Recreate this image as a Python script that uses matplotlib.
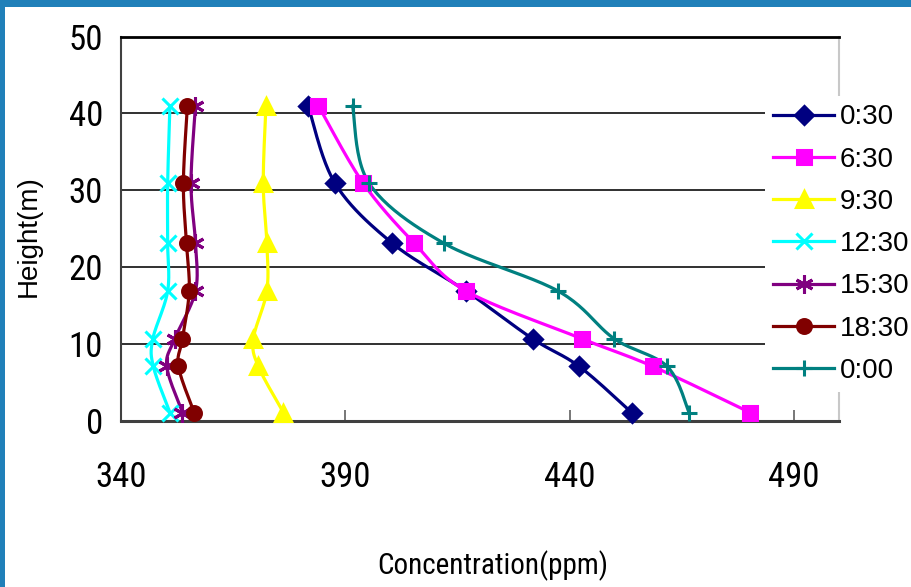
import numpy as np
import matplotlib
matplotlib.use("Agg")
import matplotlib.pyplot as plt
from matplotlib.patches import Rectangle
from matplotlib.lines import Line2D

# Measurement heights (m) and CO2 concentration profiles (ppm) at each time
heights = [1.1, 7.1, 10.7, 16.9, 23.1, 30.9, 41.0]
times = ["0:30", "6:30", "9:30", "12:30", "15:30", "18:30", "0:00"]
conc_0030 = [453.8, 442.1, 431.7, 416.9, 400.5, 387.7, 381.7]
conc_0630 = [480.2, 458.5, 442.7, 416.9, 405.4, 394.0, 384.0]
conc_0930 = [376.2, 370.6, 369.5, 372.5, 372.5, 371.7, 372.3]
conc_1230 = [350.9, 347.2, 347.1, 350.4, 350.4, 350.4, 350.9]
conc_1530 = [353.7, 350.2, 352.0, 356.6, 356.6, 355.6, 356.6]
conc_1830 = [356.3, 352.8, 353.7, 355.2, 354.6, 353.9, 354.8]
conc_0000 = [466.6, 461.7, 449.9, 437.4, 412.0, 395.3, 391.6]
x_ticks = [340, 390, 440, 490]
y_ticks = [0, 10, 20, 30, 40, 50]

series = [conc_0030, conc_0630, conc_0930, conc_1230, conc_1530, conc_1830, conc_0000]
colors = ["#000080", "#FF00FF", "#FFFF00", "#00FFFF", "#800080", "#800000", "#008080"]
markers = ["D", "s", "^", "x", (6, 2, 0), "o", "+"]
msizes = [9, 10, 11, 12, 13, 10, 12]

NARROW = ["Roboto Condensed", "Liberation Sans", "DejaVu Sans"]
REGULAR = ["Liberation Sans", "DejaVu Sans"]


def smooth(xs, ys, n=24):
    """Catmull-Rom curve through the points (spreadsheet-style smoothed line)."""
    p = np.column_stack([xs, ys]).astype(float)
    p = np.vstack([p[0], p, p[-1]])
    out = []
    t = np.linspace(0, 1, n, endpoint=False)[:, None]
    for i in range(1, len(p) - 2):
        p0, p1, p2, p3 = p[i - 1], p[i], p[i + 1], p[i + 2]
        seg = 0.5 * ((2 * p1) + (-p0 + p2) * t + (2 * p0 - 5 * p1 + 4 * p2 - p3) * t ** 2
                     + (-p0 + 3 * p1 - 3 * p2 + p3) * t ** 3)
        out.append(seg)
    out.append(p[-2][None, :])
    out = np.vstack(out)
    return out[:, 0], out[:, 1]


fig = plt.figure(figsize=(9.12, 5.87), dpi=100)
W, H = 912, 587
# frame bands
fig.patches.append(Rectangle((0, 1 - 7 / H), 1, 7 / H, transform=fig.transFigure,
                             facecolor="#2080b9", edgecolor="none", zorder=0))
fig.patches.append(Rectangle((0, 0), 5 / W, 1, transform=fig.transFigure,
                             facecolor="#2080b9", edgecolor="none", zorder=0))

ax = fig.add_axes([121 / W, 1 - 421 / H, (839 - 121) / W, (421 - 36.5) / H])
ax.set_xlim(340, 500)
ax.set_ylim(0, 50)

for vals, c, m, ms, lab in zip(series, colors, markers, msizes, times):
    sx, sy = smooth(vals, heights)
    ax.plot(sx, sy, color=c, lw=2.3, zorder=3, solid_capstyle="round")
    ax.plot(vals, heights, linestyle="none", marker=m, markersize=ms, color=c,
            markeredgecolor=c, markeredgewidth=2.2, zorder=4, clip_on=False)

ax.set_xticks(x_ticks)
ax.set_yticks(y_ticks)
ax.tick_params(axis="x", direction="in", length=8, width=1.2, color="#606060",
               pad=29, labelsize=25)
ax.tick_params(axis="y", length=0, pad=13, labelsize=25)
for lbl in ax.get_xticklabels() + ax.get_yticklabels():
    lbl.set_fontfamily(NARROW)

ax.grid(axis="y", color="#202020", lw=1.3)
ax.set_axisbelow(True)
ax.spines["top"].set_color("#000000")
ax.spines["top"].set_linewidth(2.0)
ax.spines["left"].set_color("#404040")
ax.spines["left"].set_linewidth(1.5)
ax.spines["bottom"].set_color("#404040")
ax.spines["bottom"].set_linewidth(2.2)
ax.spines["right"].set_color("#c8c8c8")
ax.spines["right"].set_linewidth(1.5)

fig.text(493 / W, 1 - 566 / H, "Concentration(ppm)", ha="center", va="center",
         fontsize=21, family=NARROW)
fig.text(29 / W, 1 - 236 / H, "Height(m)", ha="center", va="center",
         rotation=90, fontsize=20, family=REGULAR)

handles = [Line2D([], [], color=c, lw=2.3, marker=m, markersize=ms,
                  markeredgecolor=c, markeredgewidth=2.2)
           for c, m, ms in zip(colors, markers, msizes)]
leg = ax.legend(handles, times, loc="upper left",
                bbox_to_anchor=(765 / W, 1 - 96 / H), bbox_transform=fig.transFigure,
                frameon=True, facecolor="white", edgecolor="none", framealpha=1,
                fancybox=False, prop={"family": REGULAR, "size": 20},
                handlelength=2.2, handletextpad=0.2, labelspacing=0.585,
                borderpad=0.3, borderaxespad=0)
leg.set_zorder(10)

fig.savefig("out.png", dpi=100, facecolor="white")
